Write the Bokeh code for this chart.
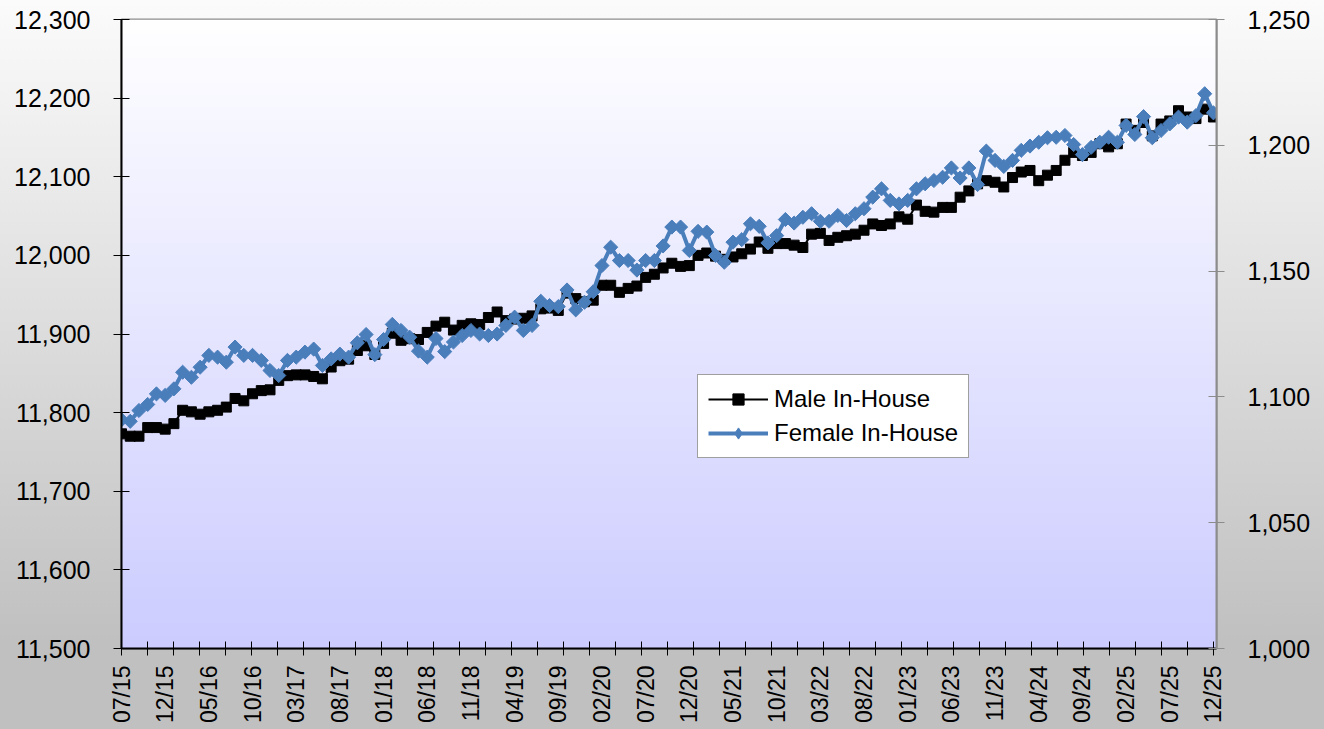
import numpy as np
from math import pi
from bokeh.plotting import figure
from bokeh.models import Range1d, LinearAxis, FixedTicker, NumeralTickFormatter, Legend, LegendItem
from bokeh.embed import file_html
from bokeh.resources import INLINE

# ---------------- data ----------------
tick_labels = ["07/15", "12/15", "05/16", "10/16", "03/17", "08/17", "01/18", "06/18",
               "11/18", "04/19", "09/19", "02/20", "07/20", "12/20", "05/21", "10/21",
               "03/22", "08/22", "01/23", "06/23", "11/23", "04/24", "09/24", "02/25",
               "07/25", "12/25"]

male_in_house = [
    11773, 11770, 11770, 11781, 11781, 11779, 11786, 11803, 11801, 11798,
    11801, 11803, 11807, 11818, 11815, 11824, 11828, 11829, 11841, 11847,
    11848, 11848, 11846, 11843, 11858, 11866, 11868, 11879, 11885, 11874,
    11888, 11901, 11892, 11894, 11893, 11902, 11910, 11915, 11905, 11911,
    11913, 11912, 11921, 11928, 11917, 11919, 11920, 11923, 11932, 11933,
    11930, 11952, 11945, 11941, 11943, 11962, 11962, 11953, 11958, 11961,
    11972, 11976, 11984, 11990, 11986, 11987, 12000, 12003, 11999, 11995,
    11998, 12002, 12008, 12017, 12009, 12015, 12015, 12013, 12010, 12027,
    12028, 12019, 12023, 12025, 12027, 12032, 12040, 12038, 12040, 12049,
    12046, 12064, 12056, 12055, 12061, 12061, 12074, 12082, 12091, 12095,
    12093, 12087, 12099, 12106, 12108, 12095, 12102, 12108, 12121, 12131,
    12127, 12131, 12142, 12138, 12142, 12167, 12159, 12169, 12152, 12167,
    12171, 12184, 12176, 12174, 12186, 12176]

female_in_house = [
    1090.9, 1090.3, 1094.6, 1097.0, 1101.2, 1100.6, 1103.2, 1109.8, 1107.8, 1111.8,
    1116.5, 1115.8, 1113.8, 1119.8, 1116.5, 1116.5, 1114.5, 1110.5, 1108.5, 1114.5,
    1115.8, 1117.8, 1119.0, 1112.5, 1115.1, 1117.0, 1115.8, 1121.5, 1124.8, 1116.8,
    1122.8, 1128.8, 1126.4, 1123.7, 1118.2, 1115.8, 1123.2, 1118.0, 1121.8, 1124.4,
    1126.4, 1125.0, 1124.4, 1125.0, 1128.4, 1131.7, 1126.4, 1128.4, 1138.0, 1136.3,
    1135.9, 1142.5, 1134.6, 1137.6, 1141.8, 1152.2, 1159.5, 1154.2, 1154.2, 1150.4,
    1154.2, 1154.2, 1160.0, 1167.5, 1167.5, 1158.2, 1165.8, 1165.5, 1156.2, 1153.5,
    1161.5, 1162.5, 1168.8, 1167.8, 1161.2, 1164.1, 1170.5, 1169.1, 1171.4, 1172.8,
    1169.8, 1169.8, 1172.1, 1170.1, 1172.8, 1174.8, 1179.4, 1182.7, 1178.1, 1176.7,
    1178.1, 1182.7, 1184.7, 1186.0, 1187.3, 1191.0, 1187.0, 1191.0, 1184.4, 1197.7,
    1194.0, 1191.6, 1194.0, 1198.0, 1199.7, 1201.2, 1203.0, 1203.2, 1203.9, 1200.3,
    1196.3, 1199.2, 1201.2, 1203.2, 1201.2, 1207.9, 1204.3, 1211.4, 1203.0, 1205.9,
    1208.5, 1211.2, 1209.2, 1211.8, 1220.5, 1212.9]

left_ticks = [11500, 11600, 11700, 11800, 11900, 12000, 12100, 12200, 12300]
right_ticks = [1000, 1050, 1100, 1150, 1200, 1250]

months = list(range(len(male_in_house)))
n_months = len(months) - 1

FONT = "Liberation Sans"
BLUE = "#4a7ebb"

# ---------------- figure ----------------
p = figure(width=1324, height=729, output_backend="svg", toolbar_location=None,
           x_range=Range1d(0, n_months + 0.35), y_range=Range1d(left_ticks[0], left_ticks[-1]),
           min_border_left=121, min_border_right=108, min_border_top=19, min_border_bottom=81)
p.extra_y_ranges = {"right": Range1d(right_ticks[0], right_ticks[-1])}

p.border_fill_alpha = 0
p.styles = {"background": "linear-gradient(to bottom, #fbfbfb 0%, #c0c0c0 88%, #c0c0c0 100%)"}
p.outline_line_color = "#8c8c8c"
p.outline_line_width = 2
p.xgrid.visible = False
p.ygrid.visible = False

# plot-area gradient (white at top -> lavender at bottom)
ng = 256
img = np.empty((ng, 1), dtype=np.uint32)
view = img.view(dtype=np.uint8).reshape((ng, 1, 4))
t = np.linspace(0, 1, ng)
view[:, 0, 0] = (204 + 51 * t).astype(np.uint8)
view[:, 0, 1] = (204 + 51 * t).astype(np.uint8)
view[:, 0, 2] = 255
view[:, 0, 3] = 255
p.image_rgba(image=[img], x=0, y=left_ticks[0], dw=n_months + 0.35,
             dh=left_ticks[-1] - left_ticks[0])

# series
ml = p.line(months, male_in_house, color="black", line_width=2)
ms = p.scatter(months, male_in_house, marker="square", size=10, color="black")
fl = p.line(months, female_in_house, color=BLUE, line_width=4, y_range_name="right")
# diamond glyph used for the legend swatch (drawn under the rotated squares)
fd = p.scatter(months[:1], female_in_house[:1], marker="diamond", size=14, color=BLUE,
               y_range_name="right")
fs = p.scatter(months, female_in_house, marker="square", angle=pi / 4, size=10,
               color=BLUE, y_range_name="right")

# x axis
xa = p.xaxis[0]
xa.ticker = FixedTicker(ticks=list(range(0, n_months + 1, 5)),
                        minor_ticks=list(np.linspace(0, n_months, 43)))
xa.major_label_overrides = {i * 5: lab for i, lab in enumerate(tick_labels)}
xa.major_tick_in = 0
xa.major_tick_out = 0
xa.minor_tick_in = 7
xa.minor_tick_out = 7
xa.minor_tick_line_color = "black"
xa.minor_tick_line_width = 1
xa.axis_line_color = "black"
xa.axis_line_width = 2
xa.major_label_orientation = pi / 2
xa.major_label_standoff = 10
xa.major_label_text_font = FONT
xa.major_label_text_font_size = "23px"
xa.major_label_text_color = "black"

# left axis
ya = p.yaxis[0]
ya.ticker = FixedTicker(ticks=left_ticks)
ya.formatter = NumeralTickFormatter(format="0,0")
ya.major_tick_in = 8
ya.major_tick_out = 8
ya.minor_tick_line_color = None
ya.axis_line_color = "black"
ya.axis_line_width = 2
ya.major_tick_line_color = "black"
ya.major_label_standoff = 23
ya.major_label_text_font = FONT
ya.major_label_text_font_size = "25px"
ya.major_label_text_color = "black"

# right axis
ra = LinearAxis(y_range_name="right")
ra.ticker = FixedTicker(ticks=right_ticks)
ra.formatter = NumeralTickFormatter(format="0,0")
ra.major_tick_in = 8
ra.major_tick_out = 8
ra.minor_tick_line_color = None
ra.axis_line_color = "#8c8c8c"
ra.axis_line_width = 2
ra.major_tick_line_color = "#8c8c8c"
ra.major_label_standoff = 23
ra.major_label_text_font = FONT
ra.major_label_text_font_size = "25px"
ra.major_label_text_color = "black"
p.add_layout(ra, "right")

# legend
legend = Legend(items=[LegendItem(label="Male In-House", renderers=[ml, ms]),
                       LegendItem(label="Female In-House", renderers=[fl, fd])],
                location=(576, 190))
legend.label_text_font = FONT
legend.label_text_font_size = "24px"
legend.label_text_color = "black"
legend.border_line_color = "#404040"
legend.border_line_width = 1
legend.background_fill_color = "white"
legend.background_fill_alpha = 1
legend.glyph_width = 60
legend.glyph_height = 28
legend.spacing = 6
legend.padding = 10
legend.label_standoff = 6
legend.margin = 0
p.add_layout(legend)

open("out.html", "w").write(file_html(p, INLINE))
